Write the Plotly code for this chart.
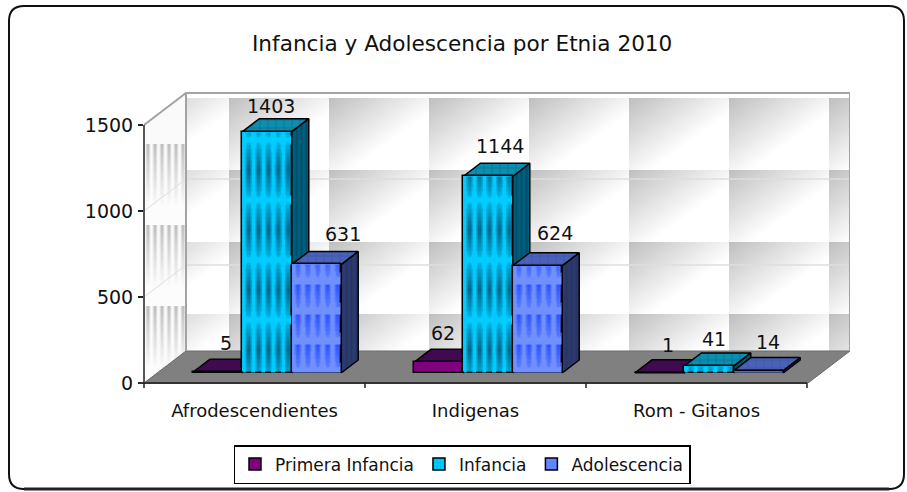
import base64
import struct
import zlib
import plotly.graph_objects as go

# ---- data ----
categories = ["Afrodescendientes", "Indigenas", "Rom - Gitanos"]
primera_infancia = [5, 62, 1]
infancia = [1403, 1144, 41]
adolescencia = [631, 624, 14]
y_ticks = [0, 500, 1000, 1500]
title_text = "Infancia y Adolescencia por Etnia 2010"

series_names = ["Primera Infancia", "Infancia", "Adolescencia"]
series_values = [primera_infancia, infancia, adolescencia]

# ---- geometry of the drawn 3D box (px) ----
W, H = 907, 492
L, R, T, B = 144, 850, 92, 383
PX_X = 221.0          # px per category
PX_Y = 258.0 / 1500   # px per value unit
ux = lambda p: p / PX_X
uy = lambda p: p / PX_Y
WALL_DX, WALL_DY = 42, 32
BAR_W = ux(49.4)
BAR_START = ux(49.0)
BASE_PX = 10
BASE = uy(BASE_PX)
DEPTH_X, DEPTH_Y = ux(17), uy(13)
x_max = (R - L) / PX_X
y_max = (B - T) / PX_Y
px = lambda p: p / W
py = lambda p: (H - p) / H

front_col = ["#800080", "#00ccff", "#6688ff"]
top_col = ["#3f0a50", "#0a8fb0", "#4a62b8"]
side_col = ["#3f0a50", "#005f7d", "#2c3a6e"]
side_fg = ["#3f0a50", "#003f58", "#232e5a"]
# value-label placement in px from each bar's front-top centre: series -> category
label_offsets = [[(8, 29), (4, 29), (8, 28)],
                 [(4, 26), (12, 30), (5, 27)],
                 [(26, 30), (17, 33), (9, 29)]]


def png_uri(w, h, fn):
    raw = bytearray()
    for y in range(h):
        raw.append(0)
        for x in range(w):
            raw.extend(fn(x, y))
    def chunk(tag, data):
        c = struct.pack(">I", len(data)) + tag + data
        return c + struct.pack(">I", zlib.crc32(tag + data) & 0xffffffff)
    body = (b"\x89PNG\r\n\x1a\n" + chunk(b"IHDR", struct.pack(">IIBBBBB", w, h, 8, 6, 0, 0, 0))
            + chunk(b"IDAT", zlib.compress(bytes(raw))) + chunk(b"IEND", b""))
    return "data:image/png;base64," + base64.b64encode(body).decode()


def tri(v, period):
    """1 at v == 0 (mod period), 0 half a period away."""
    d = v % period
    d = min(d, period - d)
    return 1 - d / (period / 2)


def cyan_tex(hpx, bottom):
    def fn(x, y):
        Y = bottom - hpx + y
        iy = tri(Y - 50, 60) ** 0.8
        ix = min(1, max(0, 1.3 - abs((x % 9.9) - 5) / 3.2))
        # base wash keeps the "+" grid of the bar from showing through the stripes
        a = 0.95 * iy * ix
        return (0, 95, 130, int(255 * a)) if a > 0.12 else (0, 204, 255, 255)
    return fn


def blue_tex(hpx, bottom):
    def fn(x, y):
        Y = bottom - hpx + y
        iy = max(0, 1 - ((Y - 15) % 30) / 26)
        ix = min(1, max(0, 1.2 - abs((x % 9.9) - 5) / 3.0))
        a = 0.95 * iy * ix
        return (40, 75, 255, int(255 * a)) if a > 0.12 else (112, 144, 255, 255)
    return fn


def back_wall(x, y):
    X, Y = x + L + WALL_DX, y + T
    if Y < 98:
        return (255, 255, 255, 255)
    t = (((X - 229) % 100) / 100 + ((Y - 98) % 72) / 72) / 1.2
    t = min(1, t)
    g = int(192 + (255 - 192) * t)
    return (g, g, g, 255)


def left_wall(x, y):
    X, Y = x + L, y + T
    top = 125 - x * WALL_DY / WALL_DX
    bot = 383 - x * WALL_DY / WALL_DX
    if Y < top or Y > bot:
        return (255, 255, 255, 0)
    if Y < 144:
        return (250, 250, 250, 255)
    fy = ((Y - 144) % 81) / 62
    ix = max(0, 1 - abs((x % 7) - 3.5) / 3)
    if fy >= 1:
        return (252, 252, 252, 255)
    g = int(252 - 72 * (1 - fy) * ix)
    return (g, g, g, 255)


back_w, back_h = R - L - WALL_DX, B - T - WALL_DY
left_h = B - T
images = [
    dict(source=png_uri(back_w, back_h, back_wall), xref="paper", yref="paper", x=px(L + WALL_DX), y=py(T),
         sizex=back_w / W, sizey=back_h / H, xanchor="left", yanchor="top", sizing="stretch", layer="below"),
    dict(source=png_uri(WALL_DX, left_h, left_wall), xref="paper", yref="paper", x=px(L), y=py(T),
         sizex=WALL_DX / W, sizey=left_h / H, xanchor="left", yanchor="top", sizing="stretch", layer="below"),
]

wall_col = "#a3a3a3"
grid_col = "#dedede"
shapes = []
ox, oy = ux(WALL_DX), uy(WALL_DY)
# floor
shapes.append(dict(type="path", layer="below", xref="x", yref="y",
                   path=f"M 0 0 L {ox} {oy} L {x_max} {oy} L {x_max-ox} 0 Z",
                   fillcolor="#808080", line=dict(color="#6a6a6a", width=1)))
# gridlines on both walls
for v in y_ticks[1:3]:
    shapes.append(dict(type="line", layer="below", xref="x", yref="y", x0=ox, x1=x_max, y0=v + oy, y1=v + oy,
                       line=dict(color=grid_col, width=1.5)))
    shapes.append(dict(type="line", layer="below", xref="x", yref="y", x0=0, x1=ox, y0=v, y1=v + oy,
                       line=dict(color=grid_col, width=1)))
# wall outline
top_v = y_ticks[-1]
shapes.append(dict(type="path", layer="below", xref="x", yref="y",
                   path=f"M 0 {top_v} L {ox} {top_v+oy} L {x_max} {top_v+oy} L {x_max} {oy}",
                   line=dict(color=wall_col, width=2)))
shapes.append(dict(type="line", layer="below", xref="x", yref="y", x0=ox, x1=ox, y0=oy, y1=top_v + oy,
                   line=dict(color=wall_col, width=2)))
# axis lines and x ticks
shapes.append(dict(type="line", xref="paper", yref="paper", x0=px(L), x1=px(L), y0=py(B), y1=py(125),
                   line=dict(color="#222222", width=1.5)))
shapes.append(dict(type="line", xref="paper", yref="paper", x0=px(L - 5), x1=px(L + 3 * PX_X), y0=py(B), y1=py(B),
                   line=dict(color="#333333", width=2)))
for i in range(len(categories) + 1):
    xp = px(L + i * PX_X)
    shapes.append(dict(type="line", xref="paper", yref="paper", x0=xp, x1=xp, y0=py(B), y1=py(B + 5),
                       line=dict(color="#222222", width=1.5)))
# rounded chart frame, heavier along the bottom
l, t, r, b, c = 9, 6, 904, 489, 15
frame = (f"M {px(l+c)} {py(t)} L {px(r-c)} {py(t)} Q {px(r)} {py(t)} {px(r)} {py(t+c)} "
         f"L {px(r)} {py(b-c)} Q {px(r)} {py(b)} {px(r-c)} {py(b)} L {px(l+c)} {py(b)} "
         f"Q {px(l)} {py(b)} {px(l)} {py(b-c)} L {px(l)} {py(t+c)} Q {px(l)} {py(t)} {px(l+c)} {py(t)} Z")
shapes.append(dict(type="path", xref="paper", yref="paper", path=frame, line=dict(color="#111111", width=2)))
shapes.append(dict(type="line", xref="paper", yref="paper", x0=px(l + c), x1=px(r - c), y0=py(b), y1=py(b),
                   line=dict(color="#222222", width=3)))

fig = go.Figure()
for s, (name, vals) in enumerate(zip(series_names, series_values)):
    xs0 = [i + BAR_START + s * BAR_W for i in range(len(categories))]
    for i, v in enumerate(vals):
        x0, x1, top = xs0[i], xs0[i] + BAR_W, BASE + v
        fig.add_trace(go.Scatter(
            x=[x1, x1 + DEPTH_X, x1 + DEPTH_X, x1, x1], y=[BASE, BASE + DEPTH_Y, top + DEPTH_Y, top, BASE],
            mode="lines", fill="toself", fillcolor=side_col[s],
            fillpattern=dict(shape="|", fgcolor=side_fg[s], bgcolor=side_col[s], size=5, solidity=0.4) if s else None,
            line=dict(color="#000000", width=1.5), showlegend=False, hoverinfo="skip", zorder=2 * s, cliponaxis=False))
        fig.add_trace(go.Scatter(
            x=[x0, x0 + DEPTH_X, x1 + DEPTH_X, x1, x0], y=[top, top + DEPTH_Y, top + DEPTH_Y, top, top],
            mode="lines", fill="toself", fillcolor=top_col[s],
            fillpattern=dict(shape="+", fgcolor="#0a5f80" if s == 1 else "#3a4fa0", bgcolor=top_col[s], size=8, solidity=0.25) if s else None,
            line=dict(color="#000000", width=1.5), showlegend=False, hoverinfo="skip", zorder=2 * s, cliponaxis=False))
    fig.add_trace(go.Bar(
        x=xs0, y=vals, base=[BASE] * len(vals), width=BAR_W, offset=0, name=name,
        marker=dict(color=front_col[s], line=dict(color="#000000", width=1.5),
                    pattern=dict(shape="" if s == 0 else "+", fgcolor="#0088aa" if s == 1 else "#3a5cff",
                                 bgcolor=front_col[s], size=4, solidity=0.2)),
        zorder=2 * s + 1, hovertemplate="%{text}: %{y}<extra>" + name + "</extra>", text=categories,
        textposition="none"))
    if s:
        for i, v in enumerate(vals):
            wpx, hpx = 48, max(1, round(v * PX_Y) - 1)
            tex = cyan_tex if s == 1 else blue_tex
            images.append(dict(source=png_uri(wpx, hpx, tex(hpx, B - BASE_PX)), xref="x", yref="y",
                               x=xs0[i] + ux(0.7), y=BASE + uy(0.5), sizex=ux(wpx), sizey=uy(hpx),
                               xanchor="left", yanchor="bottom", sizing="stretch", layer="above"))

annotations = []
for s, vals in enumerate(series_values):
    for i, v in enumerate(vals):
        dx, dy = label_offsets[s][i]
        annotations.append(dict(x=i + BAR_START + (s + 0.5) * BAR_W, y=BASE + v, text=str(v), showarrow=False,
                                xshift=dx, yshift=dy, xanchor="center", yanchor="middle",
                                font=dict(size=19, color="#111111")))

annotations.append(dict(xref="paper", yref="paper", x=px(462), y=py(43), text=title_text, showarrow=False,
                        xanchor="center", yanchor="middle", font=dict(size=21.6, color="#111111")))

fig.update_layout(
    width=W, height=H, autosize=False,
    margin=dict(l=0, r=0, t=0, b=0, pad=0),
    paper_bgcolor="white", plot_bgcolor="rgba(0,0,0,0)",
    font=dict(family="DejaVu Sans", color="#111111", size=16),
    barmode="overlay", bargap=0,
    xaxis=dict(domain=[L / W, R / W], range=[0, x_max], tickvals=[i + 0.5 for i in range(len(categories))],
               ticktext=categories, ticks="", showgrid=False, zeroline=False, showline=False, ticklabelstandoff=15,
               tickfont=dict(size=18), fixedrange=True, automargin=False),
    yaxis=dict(domain=[(H - B) / H, (H - T) / H], range=[0, y_max], tickvals=y_ticks, ticks="outside", ticklen=5,
               tickwidth=1.5, tickcolor="#222222", showgrid=False, zeroline=False, showline=False,
               tickfont=dict(size=19), ticklabelstandoff=1, fixedrange=True, automargin=False),
    legend=dict(orientation="h", x=px(462), xanchor="center", y=py(484),
                yanchor="bottom", bgcolor="white",
                bordercolor="#000000", borderwidth=1.5, font=dict(size=17), traceorder="normal", itemwidth=30),
    shapes=shapes, images=images, annotations=annotations,
)
fig.write_html("out.html", config=dict(displayModeBar=False),
               post_script="document.body.style.margin='0';")
